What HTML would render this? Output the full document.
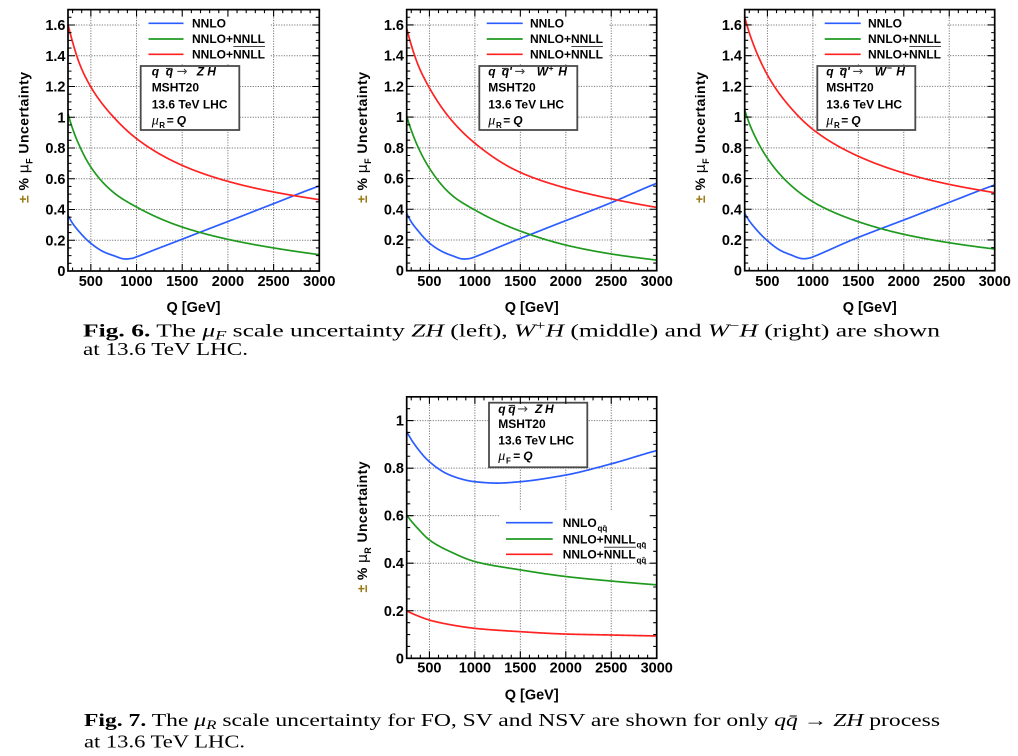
<!DOCTYPE html>
<html><head><meta charset="utf-8">
<style>
html,body{margin:0;padding:0;background:#fff;width:1018px;height:756px;overflow:hidden}
svg{display:block}
.r{font-family:"Liberation Sans",Arial,sans-serif;font-weight:bold;fill:#000}
.t{font-size:14.5px}
.lg{font-size:12px}
.cap{font-family:"Liberation Serif","Times New Roman",serif;font-size:17.5px;fill:#000}
</style></head>
<body>
<svg id="s" width="1018" height="756" viewBox="0 0 1018 756" xmlns="http://www.w3.org/2000/svg">
<rect x="0" y="0" width="1018" height="756" fill="#fff"/>
<g id="grid"></g>

<!-- legend fills -->
<rect x="140" y="11" width="130" height="52" fill="#fff"/>
<rect x="478.7" y="11" width="130" height="52" fill="#fff"/>
<rect x="816.7" y="11" width="130" height="52" fill="#fff"/>
<rect x="500" y="510" width="152" height="53" fill="#fff"/>

<!-- boxes -->
<rect x="140.7" y="66" width="98.6" height="64" fill="#fff" stroke="#4a4a4a" stroke-width="1.8"/>
<rect x="479.3" y="66" width="98" height="64" fill="#fff" stroke="#4a4a4a" stroke-width="1.8"/>
<rect x="817.3" y="66" width="98" height="64" fill="#fff" stroke="#4a4a4a" stroke-width="1.8"/>
<rect x="489" y="402.7" width="98.3" height="64.6" fill="#fff" stroke="#4a4a4a" stroke-width="1.8"/>

<g id="curves"></g>
<g id="frames"></g>

<!-- ===== Panel 1 ===== -->
<g class="r t" text-anchor="end">
<text x="65.5" y="276">0</text><text x="65.5" y="245.3">0.2</text><text x="65.5" y="214.5">0.4</text><text x="65.5" y="183.8">0.6</text><text x="65.5" y="153">0.8</text><text x="65.5" y="122.3">1</text><text x="65.5" y="91.5">1.2</text><text x="65.5" y="60.8">1.4</text><text x="65.5" y="30">1.6</text>
</g>
<g class="r t" text-anchor="middle">
<text x="90.8" y="286">500</text><text x="136.5" y="286">1000</text><text x="182.2" y="286">1500</text><text x="227.9" y="286">2000</text><text x="273.6" y="286">2500</text><text x="319.3" y="286">3000</text>
<text x="193.5" y="312">Q [GeV]</text>
</g>
<text class="r" font-size="14" transform="translate(28.5,137.5) rotate(-90)" text-anchor="middle" textLength="131" lengthAdjust="spacing"><tspan fill="#9c7a16">±</tspan> % <tspan font-family="DejaVu Sans,sans-serif" font-weight="normal">μ</tspan><tspan font-size="9" dy="4">F</tspan><tspan dy="-4"> Uncertainty</tspan></text>
<g class="r lg">
<text x="192" y="27.5">NNLO</text><text x="192" y="43.2">NNLO+NNLL</text><text x="192" y="58.3">NNLO+NNLL</text>
</g>
<line x1="233.3" y1="46.5" x2="265" y2="46.5" stroke="#444" stroke-width="1"/>
<line x1="148.5" y1="23.3" x2="183.5" y2="23.3" stroke="#2a5cff" stroke-width="1.7"/>
<line x1="148.5" y1="39" x2="183.5" y2="39" stroke="#1f9a1f" stroke-width="1.7"/>
<line x1="148.5" y1="54.3" x2="183.5" y2="54.3" stroke="#ff2222" stroke-width="1.7"/>
<g class="r lg">
<text x="151.7" y="75.5" font-style="italic">q</text>
<text x="165.7" y="75.5" font-style="italic">q</text>
<text x="196.7" y="75.5" font-style="italic">Z</text>
<text x="207.3" y="75.5" font-style="italic">H</text>
<text x="151.7" y="91.7">MSHT20</text>
<text x="151.7" y="108.3">13.6 TeV LHC</text>
<text x="166.7" y="124.3">=</text>
<text x="176.7" y="124.3" font-style="italic">Q</text>
<text x="159.3" y="128" font-size="8">R</text>
</g>
<line x1="166" y1="68.4" x2="172.5" y2="68.4" stroke="#222" stroke-width="1"/>
<text x="176.7" y="75.5" font-family="DejaVu Sans,sans-serif" font-size="13" fill="#444">→</text>
<text x="151.7" y="124.3" font-family="Liberation Serif,serif" font-style="italic" font-size="14" fill="#000">μ</text>

<!-- ===== Panel 2 ===== -->
<g class="r t" text-anchor="end">
<text x="404" y="275.7">0</text><text x="404" y="245">0.2</text><text x="404" y="214.3">0.4</text><text x="404" y="183.5">0.6</text><text x="404" y="152.8">0.8</text><text x="404" y="122.1">1</text><text x="404" y="91.4">1.2</text><text x="404" y="60.7">1.4</text><text x="404" y="29.9">1.6</text>
</g>
<g class="r t" text-anchor="middle">
<text x="429.4" y="286">500</text><text x="474.9" y="286">1000</text><text x="520.3" y="286">1500</text><text x="565.8" y="286">2000</text><text x="611.2" y="286">2500</text><text x="656.7" y="286">3000</text>
<text x="531.7" y="312">Q [GeV]</text>
</g>
<text class="r" font-size="14" transform="translate(367,137.5) rotate(-90)" text-anchor="middle" textLength="131" lengthAdjust="spacing"><tspan fill="#9c7a16">±</tspan> % <tspan font-family="DejaVu Sans,sans-serif" font-weight="normal">μ</tspan><tspan font-size="9" dy="4">F</tspan><tspan dy="-4"> Uncertainty</tspan></text>
<g class="r lg">
<text x="530" y="27.5">NNLO</text><text x="530" y="43.2">NNLO+NNLL</text><text x="530" y="58.3">NNLO+NNLL</text>
</g>
<line x1="571.3" y1="46.5" x2="603" y2="46.5" stroke="#444" stroke-width="1"/>
<line x1="486.7" y1="23.3" x2="522.7" y2="23.3" stroke="#2a5cff" stroke-width="1.7"/>
<line x1="486.7" y1="39" x2="522.7" y2="39" stroke="#1f9a1f" stroke-width="1.7"/>
<line x1="486.7" y1="54.3" x2="522.7" y2="54.3" stroke="#ff2222" stroke-width="1.7"/>
<g class="r lg">
<text x="488.3" y="75.5" font-style="italic">q</text>
<text x="501.7" y="75.5" font-style="italic">q'</text>
<text x="536.7" y="75.5" font-style="italic">W</text>
<text x="548.8" y="71" font-size="8">+</text>
<text x="558.3" y="75.5" font-style="italic">H</text>
<text x="488.3" y="91.7">MSHT20</text>
<text x="488.3" y="108.3">13.6 TeV LHC</text>
<text x="503.3" y="124.3">=</text>
<text x="513.3" y="124.3" font-style="italic">Q</text>
<text x="496" y="128" font-size="8">R</text>
</g>
<line x1="502" y1="68.4" x2="508.5" y2="68.4" stroke="#222" stroke-width="1"/>
<text x="514.5" y="75.5" font-family="DejaVu Sans,sans-serif" font-size="13" fill="#444">→</text>
<text x="488.3" y="124.3" font-family="Liberation Serif,serif" font-style="italic" font-size="14" fill="#000">μ</text>

<!-- ===== Panel 3 ===== -->
<g class="r t" text-anchor="end">
<text x="742" y="275.7">0</text><text x="742" y="245">0.2</text><text x="742" y="214.3">0.4</text><text x="742" y="183.5">0.6</text><text x="742" y="152.8">0.8</text><text x="742" y="122.1">1</text><text x="742" y="91.4">1.2</text><text x="742" y="60.7">1.4</text><text x="742" y="29.9">1.6</text>
</g>
<g class="r t" text-anchor="middle">
<text x="767.4" y="286">500</text><text x="812.9" y="286">1000</text><text x="858.3" y="286">1500</text><text x="903.8" y="286">2000</text><text x="949.2" y="286">2500</text><text x="994.7" y="286">3000</text>
<text x="869.7" y="312">Q [GeV]</text>
</g>
<text class="r" font-size="14" transform="translate(705,137.5) rotate(-90)" text-anchor="middle" textLength="131" lengthAdjust="spacing"><tspan fill="#9c7a16">±</tspan> % <tspan font-family="DejaVu Sans,sans-serif" font-weight="normal">μ</tspan><tspan font-size="9" dy="4">F</tspan><tspan dy="-4"> Uncertainty</tspan></text>
<g class="r lg">
<text x="868" y="27.5">NNLO</text><text x="868" y="43.2">NNLO+NNLL</text><text x="868" y="58.3">NNLO+NNLL</text>
</g>
<line x1="909.3" y1="46.5" x2="941" y2="46.5" stroke="#444" stroke-width="1"/>
<line x1="824.7" y1="23.3" x2="860.7" y2="23.3" stroke="#2a5cff" stroke-width="1.7"/>
<line x1="824.7" y1="39" x2="860.7" y2="39" stroke="#1f9a1f" stroke-width="1.7"/>
<line x1="824.7" y1="54.3" x2="860.7" y2="54.3" stroke="#ff2222" stroke-width="1.7"/>
<g class="r lg">
<text x="826.3" y="75.5" font-style="italic">q</text>
<text x="839.7" y="75.5" font-style="italic">q'</text>
<text x="874.7" y="75.5" font-style="italic">W</text>
<text x="886.8" y="71" font-size="9">−</text>
<text x="896.3" y="75.5" font-style="italic">H</text>
<text x="826.3" y="91.7">MSHT20</text>
<text x="826.3" y="108.3">13.6 TeV LHC</text>
<text x="841.3" y="124.3">=</text>
<text x="851.3" y="124.3" font-style="italic">Q</text>
<text x="834" y="128" font-size="8">R</text>
</g>
<line x1="840" y1="68.4" x2="846.5" y2="68.4" stroke="#222" stroke-width="1"/>
<text x="852.5" y="75.5" font-family="DejaVu Sans,sans-serif" font-size="13" fill="#444">→</text>
<text x="826.3" y="124.3" font-family="Liberation Serif,serif" font-style="italic" font-size="14" fill="#000">μ</text>

<!-- ===== Caption Fig 6 ===== -->
<text class="cap" x="83" y="336.5" textLength="857" lengthAdjust="spacingAndGlyphs"><tspan font-weight="bold">Fig. 6.</tspan> The <tspan font-style="italic">μ</tspan><tspan font-style="italic" font-size="12.5" dy="3">F</tspan><tspan dy="-3"> scale uncertainty </tspan><tspan font-style="italic">ZH</tspan> (left), <tspan font-style="italic">W</tspan><tspan font-size="12.5" dy="-7">+</tspan><tspan font-style="italic" dy="7">H</tspan> (middle) and <tspan font-style="italic">W</tspan><tspan font-size="12.5" dy="-7">−</tspan><tspan font-style="italic" dy="7">H</tspan> (right) are shown</text>
<text class="cap" x="83" y="355" textLength="165" lengthAdjust="spacingAndGlyphs">at 13.6 TeV LHC.</text>

<!-- ===== Panel 4 (bottom) ===== -->
<g class="r t" text-anchor="end">
<text x="404" y="663.3">0</text><text x="404" y="615.8">0.2</text><text x="404" y="568.2">0.4</text><text x="404" y="520.7">0.6</text><text x="404" y="473.1">0.8</text><text x="404" y="425.6">1</text>
</g>
<g class="r t" text-anchor="middle">
<text x="429.4" y="672.5">500</text><text x="474.9" y="672.5">1000</text><text x="520.3" y="672.5">1500</text><text x="565.8" y="672.5">2000</text><text x="611.2" y="672.5">2500</text><text x="656.7" y="672.5">3000</text>
<text x="531.7" y="699.5">Q [GeV]</text>
</g>
<text class="r" font-size="14" transform="translate(367,527) rotate(-90)" text-anchor="middle" textLength="131" lengthAdjust="spacing"><tspan fill="#9c7a16">±</tspan> % <tspan font-family="DejaVu Sans,sans-serif" font-weight="normal">μ</tspan><tspan font-size="9" dy="4">R</tspan><tspan dy="-4"> Uncertainty</tspan></text>
<g class="r lg">
<text x="498.3" y="412.8" font-style="italic">q</text>
<text x="508.3" y="412.8" font-style="italic">q</text>
<text x="535" y="412.8" font-style="italic">Z</text>
<text x="545" y="412.8" font-style="italic">H</text>
<text x="498.3" y="428">MSHT20</text>
<text x="498.3" y="444.5">13.6 TeV LHC</text>
<text x="513.3" y="459.8">=</text>
<text x="523.3" y="459.8" font-style="italic">Q</text>
<text x="506" y="463.5" font-size="8">F</text>
</g>
<line x1="508.6" y1="405.4" x2="515" y2="405.4" stroke="#222" stroke-width="1"/>
<text x="517.3" y="412.8" font-family="DejaVu Sans,sans-serif" font-size="13" fill="#444">→</text>
<text x="498.3" y="459.8" font-family="Liberation Serif,serif" font-style="italic" font-size="14" fill="#000">μ</text>
<line x1="506" y1="522.7" x2="552.7" y2="522.7" stroke="#2a5cff" stroke-width="1.7"/>
<line x1="506" y1="539" x2="552.7" y2="539" stroke="#1f9a1f" stroke-width="1.7"/>
<line x1="506" y1="554.3" x2="552.7" y2="554.3" stroke="#ff2222" stroke-width="1.7"/>
<g class="r lg">
<text x="562.7" y="527">NNLO</text>
<text x="597.5" y="531.2" font-size="8">qq̄</text>
<text x="562.7" y="543.3">NNLO+NNLL</text>
<text x="636.5" y="547.5" font-size="8">qq̄</text>
<text x="562.7" y="558.6">NNLO+NNLL</text>
<text x="636.5" y="562.8" font-size="8">qq̄</text>
</g>
<line x1="604" y1="547.3" x2="636" y2="547.3" stroke="#444" stroke-width="1"/>

<!-- ===== Caption Fig 7 ===== -->
<text class="cap" x="84" y="726" textLength="856" lengthAdjust="spacingAndGlyphs"><tspan font-weight="bold">Fig. 7.</tspan> The <tspan font-style="italic">μ</tspan><tspan font-style="italic" font-size="12.5" dy="3">R</tspan><tspan dy="-3"> scale uncertainty for FO, SV and NSV are shown for only </tspan><tspan font-style="italic">q</tspan><tspan font-style="italic">q̄</tspan> → <tspan font-style="italic">ZH</tspan> process</text>
<text class="cap" x="84" y="747.5" textLength="161" lengthAdjust="spacingAndGlyphs">at 13.6 TeV LHC.</text>
</svg>

<script>
(function(){
var NS='http://www.w3.org/2000/svg';
function el(p,tag,a){var e=document.createElementNS(NS,tag);for(var k in a)e.setAttribute(k,a[k]);p.appendChild(e);return e;}
function pchip(pts){
  var n=pts.length,xs=[],ys=[],h=[],d=[],m=[];
  for(var i=0;i<n;i++){xs.push(Math.log(pts[i][0]));ys.push(pts[i][1]);}
  for(i=0;i<n-1;i++){h.push(xs[i+1]-xs[i]);d.push((ys[i+1]-ys[i])/h[i]);}
  m[0]=d[0];m[n-1]=d[n-2];
  for(i=1;i<n-1;i++){
    if(d[i-1]*d[i]<=0)m[i]=0;
    else{var w1=2*h[i]+h[i-1],w2=h[i]+2*h[i-1];m[i]=(w1+w2)/(w1/d[i-1]+w2/d[i]);}
  }
  return function(q){
    var x=Math.log(q);
    var i=0;while(i<n-2&&x>xs[i+1])i++;
    var t=(x-xs[i])/h[i],t2=t*t,t3=t2*t;
    return (2*t3-3*t2+1)*ys[i]+(t3-2*t2+t)*h[i]*m[i]+(-2*t3+3*t2)*ys[i+1]+(t3-t2)*h[i]*m[i+1];
  };
}
var B='#2a5cff',G='#1f9a1f',R='#ff2222';
var panels=[
 {x0:68,x1:319.3,yb:271,ppu:153.75,ymax:1.7,s:[
  [B,[[250,.362],[300,.31],[375,.254],[500,.18],[650,.122],[750,.1],[880,.078],[950,.082],[1000,.092],[1250,.15],[1500,.207],[2000,.322],[2500,.438],[3000,.553]]],
  [G,[[250,1.023],[300,.926],[375,.815],[500,.676],[750,.51],[1000,.416],[1500,.286],[2000,.206],[2500,.15],[3000,.106]]],
  [R,[[250,1.604],[300,1.49],[375,1.35],[500,1.197],[750,1.0],[1000,.861],[1500,.687],[2000,.583],[2500,.514],[3000,.464]]]]},
 {x0:406.7,x1:656.7,yb:270.7,ppu:153.6,ymax:1.7,s:[
  [B,[[250,.373],[300,.318],[375,.26],[500,.18],[650,.122],[750,.098],[880,.076],[950,.08],[1000,.09],[1500,.21],[2000,.326],[2500,.443],[3000,.569]]],
  [G,[[250,1.007],[300,.915],[375,.805],[500,.667],[750,.49],[1000,.395],[1500,.258],[2000,.167],[2500,.109],[3000,.069]]],
  [R,[[250,1.578],[300,1.47],[375,1.34],[500,1.19],[750,.975],[1000,.83],[1500,.64],[2000,.538],[2500,.468],[3000,.412]]]]},
 {x0:744.7,x1:994.7,yb:270.7,ppu:153.6,ymax:1.7,s:[
  [B,[[250,.373],[300,.325],[375,.27],[500,.195],[650,.13],[750,.105],[900,.078],[960,.082],[1000,.09],[1500,.217],[2000,.33],[2500,.445],[3000,.558]]],
  [G,[[250,1.046],[300,.96],[375,.86],[500,.732],[750,.56],[1000,.449],[1500,.319],[2000,.237],[2500,.182],[3000,.141]]],
  [R,[[250,1.65],[300,1.55],[375,1.43],[500,1.274],[750,1.065],[1000,.92],[1500,.745],[2000,.636],[2500,.562],[3000,.508]]]]},
 {x0:406.7,x1:656.7,yb:658.3,ppu:237.7,ymax:1.1,s:[
  [B,[[250,.954],[375,.88],[500,.827],[750,.767],[1000,.743],[1250,.737],[1500,.743],[2000,.771],[2500,.818],[3000,.874]]],
  [G,[[250,.603],[375,.545],[500,.498],[750,.445],[1000,.407],[1500,.372],[2000,.344],[2500,.325],[3000,.309]]],
  [R,[[250,.2],[375,.178],[500,.161],[750,.14],[1000,.126],[1500,.112],[2000,.102],[2500,.098],[3000,.094]]]]}
];
var gg=document.getElementById('grid'),gc=document.getElementById('curves'),gf=document.getElementById('frames');
panels.forEach(function(o){
  var X=function(q){return o.x0+(q-250)/2750*(o.x1-o.x0);};
  var Y=function(v){return o.yb-v*o.ppu;};
  var yt=Y(o.ymax);
  var q,k,d;
  for(q=500;q<3000;q+=500){var x=X(q);el(gg,'line',{x1:x,y1:yt,x2:x,y2:o.yb,stroke:'#7a7a7a','stroke-width':1,'stroke-dasharray':'1.2 1.4'});}
  for(k=1;k*0.2<o.ymax-1e-6;k++){var y=Y(k*0.2);el(gg,'line',{x1:o.x0,y1:y,x2:o.x1,y2:y,stroke:'#7a7a7a','stroke-width':1,'stroke-dasharray':'1.2 1.4'});}
  o.s.forEach(function(s){
    var f=pchip(s[1]);d='';
    for(q=250;q<=3000;q+=5){d+=(q==250?'M':'L')+X(q).toFixed(2)+' '+Y(f(q)).toFixed(2);}
    el(gc,'path',{d:d,fill:'none',stroke:s[0],'stroke-width':1.7,'stroke-linejoin':'round'});
  });
  d='';
  for(k=0;k*0.05<=o.ymax+1e-9;k++){
    var yy=Y(k*0.05),L=(k%4==0)?7:3.5;
    d+='M'+o.x0+' '+yy+'h'+L+'M'+o.x1+' '+yy+'h'+(-L);
  }
  for(q=300;q<3000;q+=100){
    var xx=X(q),L2=(q%500==0)?7:3.5;
    d+='M'+xx+' '+o.yb+'v'+(-L2)+'M'+xx+' '+yt+'v'+L2;
  }
  el(gf,'path',{d:d,stroke:'#000','stroke-width':1.1,fill:'none'});
  el(gf,'rect',{x:o.x0,y:yt,width:o.x1-o.x0,height:o.yb-yt,fill:'none',stroke:'#000','stroke-width':1.7});
});
})();
</script>
</body></html>
